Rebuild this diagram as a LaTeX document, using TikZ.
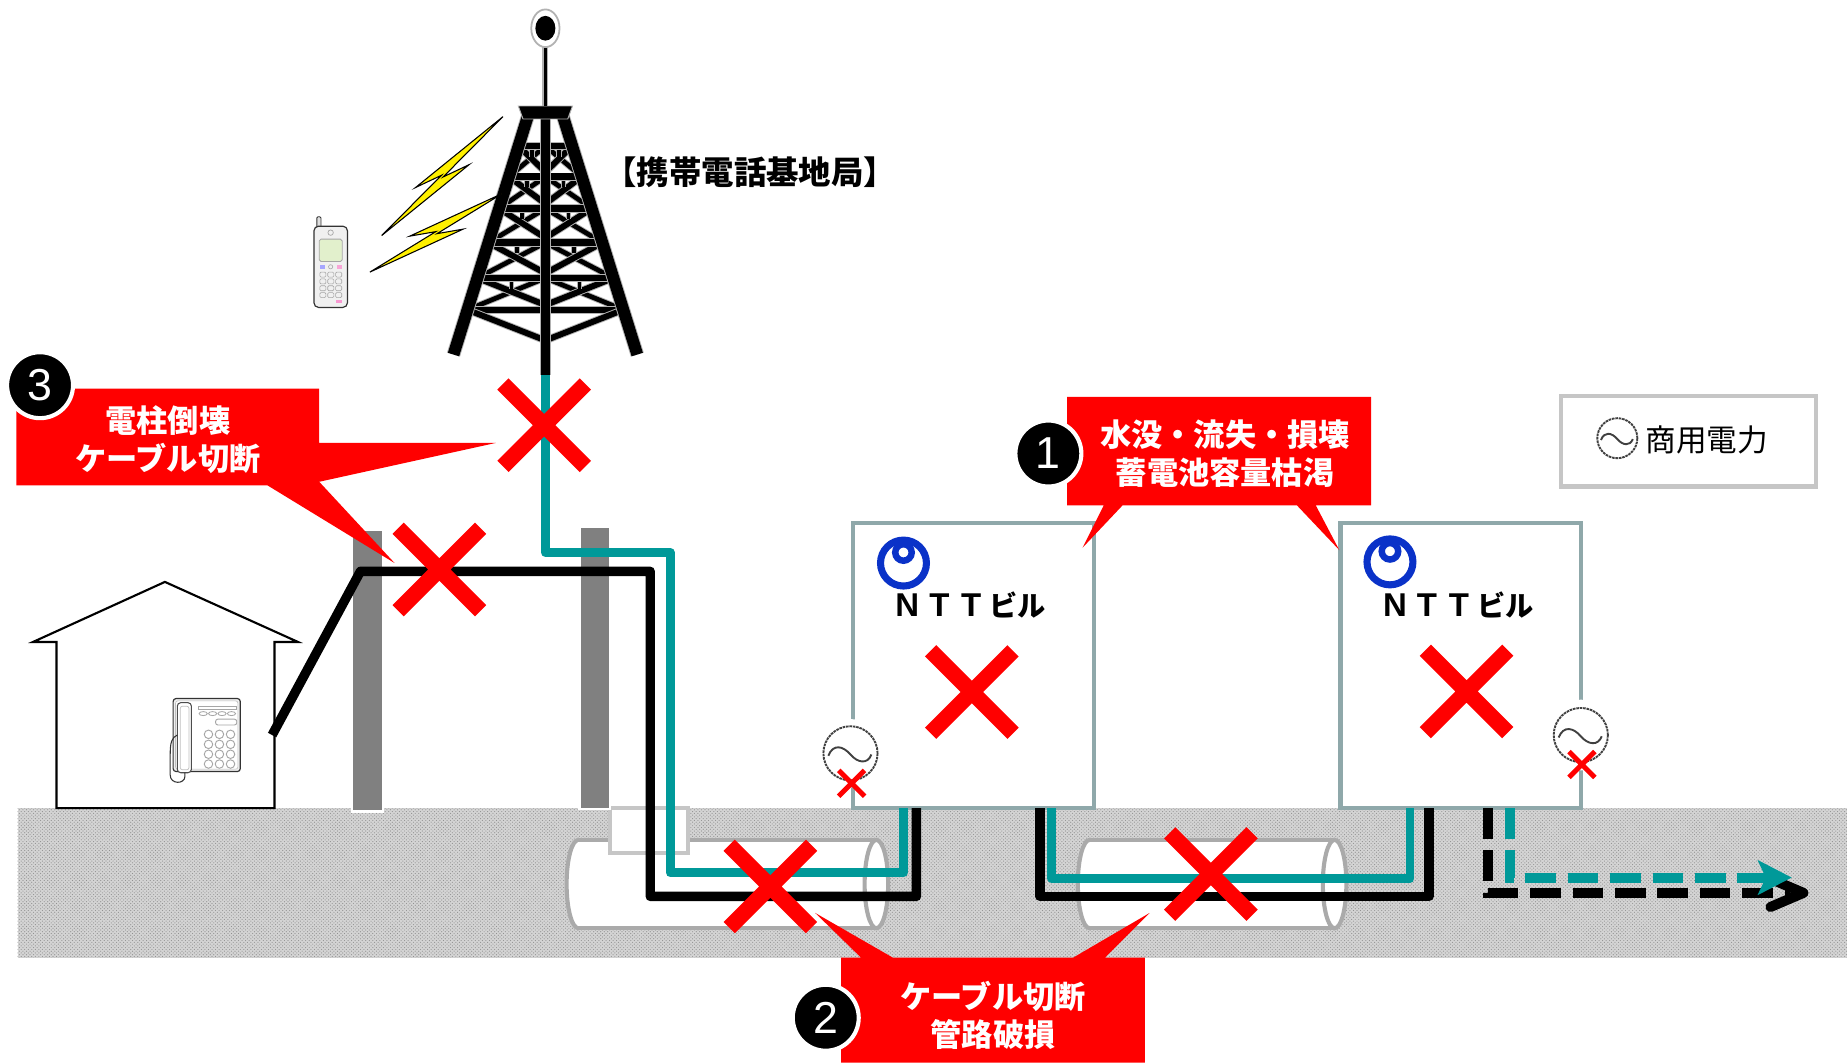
\documentclass[tikz,border=0pt]{standalone}
\usepackage{fontspec}
\usetikzlibrary{calc,patterns}
\newfontfamily\jp{Noto Sans CJK JP}
\newfontfamily\numf{Liberation Sans}
\definecolor{alarmred}{RGB}{255,0,0}
\definecolor{cabteal}{RGB}{0,153,153}
\definecolor{bldg}{RGB}{143,168,170}
\definecolor{pipegray}{RGB}{170,170,170}
\definecolor{polegray}{RGB}{128,128,128}
\definecolor{nttblue}{RGB}{10,50,200}
\definecolor{boltyellow}{RGB}{255,240,0}
\definecolor{lcd}{RGB}{226,240,204}
\definecolor{groundbase}{RGB}{212,212,212}
\definecolor{grounddot}{RGB}{145,145,145}

\tikzset{
  redx/.style={draw=alarmred, line width=13.5pt, line cap=butt},
  tinyx/.style={draw=alarmred, line width=4.2pt, line cap=butt},
  cable/.style={line width=8pt, line join=round},
  truss/.style={line width=#1, draw=black, preaction={draw=gray!60, line width=#1+1.6pt}},
  pipebody/.style={fill=white, draw=pipegray, line width=3.5pt},
  callout/.style={fill=alarmred, draw=none},
  callouttext/.style={text=white, inner sep=0pt, align=center,
    font=\jp\bfseries\fontsize{26.5}{32.5}\selectfont},
  numcircle/.style={circle, fill=black, draw=white, line width=3.5pt, minimum size=56pt,
    inner sep=0pt, text=white, font=\numf\fontsize{38}{38}\selectfont},
  building/.style={fill=white, draw=bldg, line width=3.5pt},
  pole/.style={fill=polegray, draw=white, line width=2pt},
  nttlabel/.style={inner sep=0pt, font=\numf\bfseries\fontsize{28}{28}\selectfont}
}

% large red cross centred on a named coordinate
\newcommand\bigx[1]{\draw[redx] ($(#1)+(-35,-35)$) -- ($(#1)+(35,35)$) ($(#1)+(-35,35)$) -- ($(#1)+(35,-35)$);}
% small red cross
\newcommand\littlex[1]{\draw[tinyx] ($(#1)+(-11,-11)$) -- ($(#1)+(11,11)$) ($(#1)+(-11,11)$) -- ($(#1)+(11,-11)$);}
% AC power symbol: circle with a sine wave
\newcommand\acsym[2]{%
  \begin{scope}[shift={(#1)}, scale=#2/22]
    \filldraw[fill=white, draw=black!75, line width=1.6pt, dash pattern=on 2.2pt off 0.7pt] (0,0) circle[radius=22];
    \draw[black!75, line width=1.6pt] (-18,2) .. controls (-14,-8) and (-6,-6) .. (0,1) .. controls (6,8) and (14,9) .. (17,1);
  \end{scope}}
% NTT logo
\newcommand\nttlogo[1]{%
  \begin{scope}[shift={(#1)}]
    \draw[nttblue, line width=6pt] (0,0) circle[radius=19.5];
    \draw[nttblue, line width=5.5pt] (0,-9) circle[radius=7];
  \end{scope}}
% building caption
\newcommand\nttcaption{N\hspace{8.5pt}T\hspace{10pt}T\hspace{7pt}{\jp\bfseries\fontsize{24}{24}\selectfont ビル}}
% lightning bolt between two tips
\newcommand\bolt[3]{%
  \path (#1) -- (#2) coordinate[pos=0.66] (#3a) coordinate[pos=0.5] (#3m) coordinate[pos=0.34] (#3c);
  \filldraw[fill=boltyellow, draw=black, line width=0.9pt, line join=miter]
    (#1) -- ($(#3a)!9pt!-90:(#2)$) -- ($(#3m)!1pt!-90:(#2)$) -- (#2)
    -- ($(#3c)!9pt!90:(#2)$) -- ($(#3m)!1pt!90:(#2)$) -- cycle;}

\begin{document}
\begin{tikzpicture}[x=1pt,y=-1pt]
\useasboundingbox (0,0) rectangle (1568,902);
\fill[white] (0,0) rectangle (1568,902);

% ---------- ground ----------
\coordinate (gTL) at (15,686);
\coordinate (gBR) at (1568,813);
\fill[groundbase] (gTL) rectangle (gBR);
\fill[pattern=crosshatch dots, pattern color=grounddot] (gTL) rectangle (gBR);

% ---------- conduits ----------
\filldraw[pipebody] (491,750.5) ellipse[x radius=10, y radius=37.5];
\fill[white] (491,713) rectangle (744,788);
\draw[pipegray, line width=3.5pt] (491,713) -- (744,713) (491,788) -- (744,788);
\filldraw[pipebody] (744,750.5) ellipse[x radius=10, y radius=37.5];

\filldraw[pipebody] (925,750.5) ellipse[x radius=10, y radius=37.5];
\fill[white] (925,713) rectangle (1133,788);
\draw[pipegray, line width=3.5pt] (925,713) -- (1133,713) (925,788) -- (1133,788);
\filldraw[pipebody] (1133,750.5) ellipse[x radius=10, y radius=37.5];

% handhole
\filldraw[fill=white, draw=gray!45, line width=3pt] (518,686) rectangle (584,724);

% ---------- utility poles ----------
\filldraw[pole] (299,450) rectangle (325,689);
\filldraw[pole] (492,447) rectangle (518,687);

% ---------- house ----------
\draw[line width=1.8pt, fill=white] (48,686) -- (48,545) -- (28,545) -- (140,494) -- (253,545) -- (233,545) -- (233,686) -- cycle;

% desk telephone
\filldraw[fill=gray!12, draw=black!80, line width=1pt, rounded corners=2.5pt] (147,593) rectangle (204,655);
\filldraw[fill=white, draw=gray!50, line width=0.5pt, rounded corners=2pt] (149,595) rectangle (202,653);
\filldraw[fill=white, draw=black!70, line width=0.9pt, rounded corners=3pt] (150.5,596.5) rectangle (162.5,656);
\draw[gray!50, line width=0.6pt, rounded corners=2pt] (153,599.5) rectangle (160.5,653.5);
\draw[black!80, line width=0.9pt] (150.5,624) .. controls (146,626) and (144.5,630) .. (144.5,640) -- (144.5,658) .. controls (144.5,666) and (157,666) .. (157,659) -- (157,656);
\draw[gray!70, line width=0.8pt] (168.5,599.5) rectangle (201,602);
\foreach \x in {172.5,180.5,188.5,196.5} \draw[gray!70, line width=0.7pt] (\x,605.8) ellipse[x radius=3.5, y radius=1.7];
\draw[gray!70, line width=0.8pt, rounded corners=2pt] (183,610.5) rectangle (201,615.5);
\foreach \x in {177,186.3,195.7} \foreach \y in {623.4,631.9,640.3,648.6} \draw[gray!70, line width=0.8pt] (\x,\y) circle[radius=3.6];

% ---------- NTT buildings ----------
\filldraw[building] (724,444) rectangle (929,686);
\filldraw[building] (1138,444) rectangle (1342,686);
\nttlogo{767,478}
\nttlogo{1180,477}
\node[nttlabel, anchor=west] (ntt1) at (760,514) {\nttcaption};
\node[nttlabel, anchor=west] (ntt2) at (1174,514) {\nttcaption};

% ---------- cables ----------
\coordinate (houseOut) at (231,624);
\coordinate (poleTop) at (306,485);
\coordinate (bDrop) at (552,485);
\coordinate (bLow) at (552,761);
\coordinate (bRise) at (778,761);
\coordinate (bIn1) at (778,686);
\draw[cable, black] (houseOut) -- (poleTop) -- (bDrop) -- (bLow) -- (bRise) -- (bIn1);

\coordinate (towerFoot) at (463,318);
\draw[cable, cabteal, line width=7.5pt] (towerFoot) -- (463,469) -- (569,469) -- (569,741) -- (767,741) -- (767,686);

\coordinate (bOut1) at (883,686);
\coordinate (bIn2) at (1213,686);
\draw[cable, black] (bOut1) -- (883,761) -- (1213,761) -- (bIn2);
\coordinate (tOut1) at (893,686);
\coordinate (tIn2) at (1197,686);
\draw[cable, cabteal, line width=7.5pt] (tOut1) -- (893,746) -- (1197,746) -- (tIn2);

% onward links
\coordinate (bOut2) at (1263,686);
\coordinate (bEnd) at (1531,758);
\draw[black, line width=8.5pt, dash pattern=on 26pt off 10pt] (bOut2) -- (1263,758) -- (1520,758);
\draw[black, line width=8.5pt, line cap=round, line join=round] ($(bEnd)+(-28,-12)$) -- (bEnd) -- ($(bEnd)+(-28,12)$);
\coordinate (tOut2) at (1282,686);
\coordinate (tEnd) at (1521,745);
\draw[cabteal, line width=8.5pt, dash pattern=on 26pt off 10pt] (tOut2) -- (1282,745) -- (1510,745);
\fill[cabteal, line join=round] ($(tEnd)+(-29,-15)$) -- (tEnd) -- ($(tEnd)+(-29,15)$) -- ($(tEnd)+(-22,0)$) -- cycle;

% ---------- commercial power at buildings ----------
\coordinate (ac1) at (722,639.5);
\coordinate (ac2) at (1342,624);
\fill[white] (ac1) circle[radius=29];
\fill[white] (ac2) circle[radius=30];
\acsym{722,639.5}{23}
\acsym{1342,624}{23}
\coordinate (acx1) at (723,665);
\coordinate (acx2) at (1343,649);
\littlex{acx1}
\littlex{acx2}

% ---------- radio tower ----------
\foreach \ya/\yb in {124/150,150/177,177/206,206/236,236/263}{
  \pgfmathsetmacro\la{448-63*(\ya-99)/202}
  \pgfmathsetmacro\lb{448-63*(\yb-99)/202}
  \pgfmathsetmacro\ra{478+63*(\ya-99)/202}
  \pgfmathsetmacro\rb{478+63*(\yb-99)/202}
  \pgfmathsetmacro\lm{(\la+463)/2}
  \pgfmathsetmacro\rm{(\ra+463)/2}
  \draw[truss=4pt] (463,\ya) -- (\lb,\yb) (463,\ya) -- (\rb,\yb);
  \draw[truss=5pt] (\la,\ya) -- (463,\yb-4) (\ra,\ya) -- (463,\yb-4);
  \draw[truss=3pt] (\lm,\ya) -- (\lm,\ya+9) (\rm,\ya) -- (\rm,\ya+9);
  \draw[truss=5.5pt] (\la,\ya) -- (\ra,\ya);
}
\pgfmathsetmacro\lz{448-63*(263-99)/202}
\pgfmathsetmacro\rz{478+63*(263-99)/202}
\draw[truss=5.5pt] (\lz,263) -- (\rz,263);
\draw[truss=5pt] (\lz,263) -- (463,289) -- (\rz,263);
\draw[truss=10pt] (448,99) -- (385,301);
\draw[truss=10pt] (478,99) -- (541,301);
\draw[truss=8pt] (463,95) -- (towerFoot);
\filldraw[fill=black, draw=gray!60, line width=0.8pt] (440,90) -- (486,90) -- (482,101) -- (444,101) -- cycle;
\draw[gray!60, line width=5pt] (463,36) -- (463,90);
\draw[black, line width=3pt] (463,36) -- (463,90);
\filldraw[fill=white, draw=gray!60, line width=1.5pt] (463,24) ellipse[x radius=12, y radius=16];
\fill[black] (463,24) ellipse[x radius=8.5, y radius=10.5];

\node[inner sep=0pt, font=\jp\bfseries\fontsize{27.5}{27.5}\selectfont] (towerlabel) at (637,146) {【携帯電話基地局】};

% radio links
\coordinate (bolt1a) at (427,99);
\coordinate (bolt1b) at (324,200);
\coordinate (bolt2a) at (427,164);
\coordinate (bolt2b) at (314,231);
\bolt{bolt1a}{bolt1b}{bA}
\bolt{bolt2a}{bolt2b}{bB}

% mobile handset
\filldraw[fill=gray!25, draw=black!80, line width=0.8pt, rounded corners=1pt] (269,184) rectangle (272.5,195);
\filldraw[fill=gray!12, draw=black!80, line width=1pt, rounded corners=4pt] (266.5,192) rectangle (295,261);
\filldraw[fill=lcd, draw=gray!70, line width=0.7pt, rounded corners=1.5pt] (271,203) rectangle (290.5,222);
\draw[gray!70, line width=0.6pt] (280.7,197.5) circle[radius=2.3];
\fill[blue!35] (271.5,225) rectangle (275.5,228);
\fill[magenta!35] (286,225) rectangle (290,228);
\draw[gray!70, line width=0.5pt] (280.7,226.5) circle[radius=1.8];
\foreach \x in {271.5,278.2,284.9} \foreach \y in {231,236.8,242.6,248.4} \draw[gray!70, line width=0.5pt, rounded corners=1pt] (\x,\y) rectangle ++(5.2,4.2);
\fill[magenta!40] (285,254.5) rectangle (290,257);

% ---------- damage marks ----------
\coordinate (xTower) at (462,361);
\coordinate (xPole) at (373,483.5);
\coordinate (xPipe1) at (654,752.5);
\coordinate (xPipe2) at (1028,742);
\coordinate (xBldg1) at (825,587.5);
\coordinate (xBldg2) at (1245,587);
\bigx{xTower}
\bigx{xPole}
\bigx{xPipe1}
\bigx{xPipe2}
\bigx{xBldg1}
\bigx{xBldg2}

% ---------- callouts ----------
\fill[callout] (14,330) -- (271,330) -- (271,376) -- (421,376) -- (271,409) -- (335,478) -- (227,412) -- (14,412) -- cycle;
\node[callouttext] (c3) at (142.5,373) {電柱倒壊\\ケーブル切断};
\node[numcircle] (n3) at (34,327) {3};

\fill[callout] (906,337) -- (1164,337) -- (1164,429) -- (1117,429) -- (1137,467) -- (1101,429) -- (953,429) -- (919,465) -- (937,429) -- (906,429) -- cycle;
\node[callouttext] (c1) at (1040,385) {水没・流失・損壊\\蓄電池容量枯渇};
\node[numcircle] (n1) at (890,385) {1};

\fill[callout] (714,813) -- (731,813) -- (692,775) -- (758,813) -- (911,813) -- (976,775) -- (938,813) -- (972,813) -- (972,902) -- (714,902) -- cycle;
\node[callouttext] (c2) at (843,862) {ケーブル切断\\管路破損};
\node[numcircle] (n2) at (701,864) {2};

% ---------- legend ----------
\node[draw=gray!45, line width=3.5pt, fill=white, minimum width=217pt, minimum height=77pt, inner sep=0pt] (legend) at (1433.5,374.5) {};
\acsym{1373,372}{17}
\node[inner sep=0pt, font=\jp\fontsize{26}{26}\selectfont] (legendtext) at (1449,373.5) {商用電力};
\end{tikzpicture}
\end{document}
